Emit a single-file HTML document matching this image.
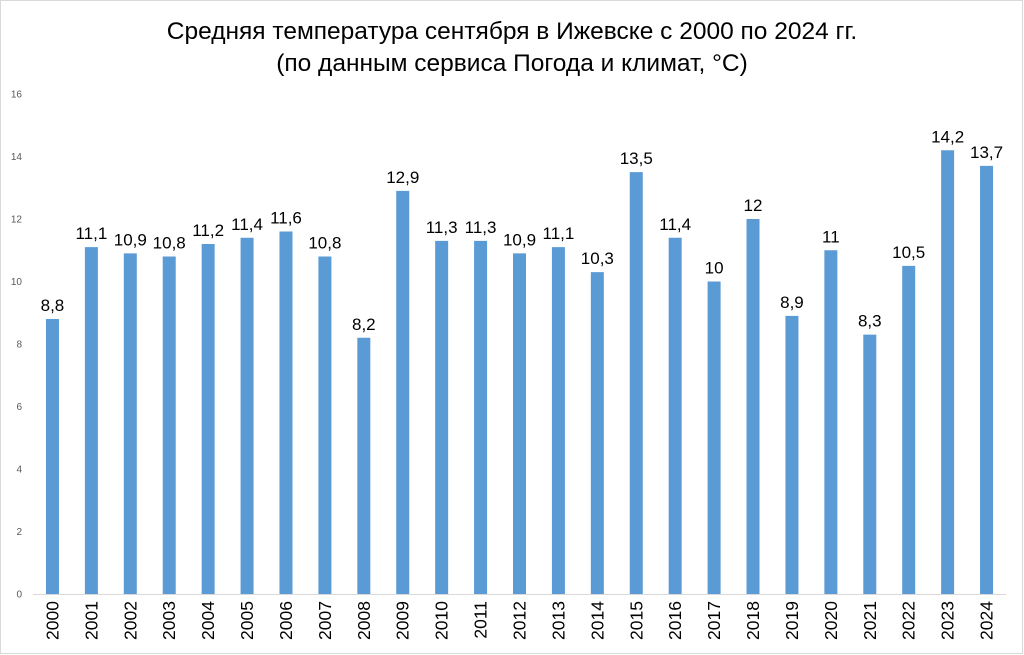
<!DOCTYPE html>
<html><head><meta charset="utf-8"><style>
body{margin:0;background:#fff;font-family:"Liberation Sans","DejaVu Sans",sans-serif;}
svg{display:block}
</style></head><body>
<svg id="chart" width="1024" height="655" viewBox="0 0 1024 655">
<rect x="0.5" y="0.5" width="1022" height="653" fill="#fff" stroke="#d9d9d9"/>
<text x="512" y="39" text-anchor="middle" font-size="24.5" fill="#000">Средняя температура сентября в Ижевске с 2000 по 2024 гг.</text>
<text x="512" y="71" text-anchor="middle" font-size="24.5" fill="#000">(по данным сервиса Погода и климат, °C)</text>
<g id="yticks"></g>
<g id="bars"></g>
<line x1="33" y1="594.5" x2="1006" y2="594.5" stroke="#d9d9d9"/>
</svg>
<script>
const years=["2000","2001","2002","2003","2004","2005","2006","2007","2008","2009","2010","2011","2012","2013","2014","2015","2016","2017","2018","2019","2020","2021","2022","2023","2024"];
const temps=[8.8,11.1,10.9,10.8,11.2,11.4,11.6,10.8,8.2,12.9,11.3,11.3,10.9,11.1,10.3,13.5,11.4,10,12,8.9,11,8.3,10.5,14.2,13.7];
const yTicks=[0,2,4,6,8,10,12,14,16];
const NS="http://www.w3.org/2000/svg";
const x0=33,x1=1006,y0=594,yTop=94,yMax=16;
const band=(x1-x0)/years.length;
const xC=i=>x0+(i+0.5)*band;
const yS=v=>y0-(v/yMax)*(y0-yTop);
const yt=document.getElementById('yticks');
yTicks.forEach(t=>{
 const e=document.createElementNS(NS,'text');
 
 
 e.setAttribute('x',22);e.setAttribute('y',yS(t)+3.5);
 e.setAttribute('text-anchor','end');e.setAttribute('font-size','10');e.setAttribute('fill','#595959');
 e.textContent=t;yt.appendChild(e);
});
const bg=document.getElementById('bars');
temps.forEach((v,i)=>{
 const r=document.createElementNS(NS,'rect');
 
 
 const w=13;
 r.setAttribute('x',xC(i)-w/2);r.setAttribute('y',yS(v));
 r.setAttribute('width',w);r.setAttribute('height',y0-yS(v));
 r.setAttribute('fill','#5b9bd5');bg.appendChild(r);
 const l=document.createElementNS(NS,'text');
 
 
 l.setAttribute('x',xC(i));l.setAttribute('y',yS(v)-8);
 l.setAttribute('text-anchor','middle');l.setAttribute('font-size','17');l.setAttribute('fill','#000');
 l.textContent=String(v).replace('.',',');bg.appendChild(l);
 const c=document.createElementNS(NS,'text');
 
 
 const cx=xC(i)+6,cy=601;
 c.setAttribute('x',cx);c.setAttribute('y',cy);
 c.setAttribute('transform','rotate(-90 '+cx+' '+cy+')');
 c.setAttribute('text-anchor','end');c.setAttribute('font-size','17.5');c.setAttribute('fill','#000');
 c.textContent=years[i];bg.appendChild(c);
});
</script>
</body></html>
